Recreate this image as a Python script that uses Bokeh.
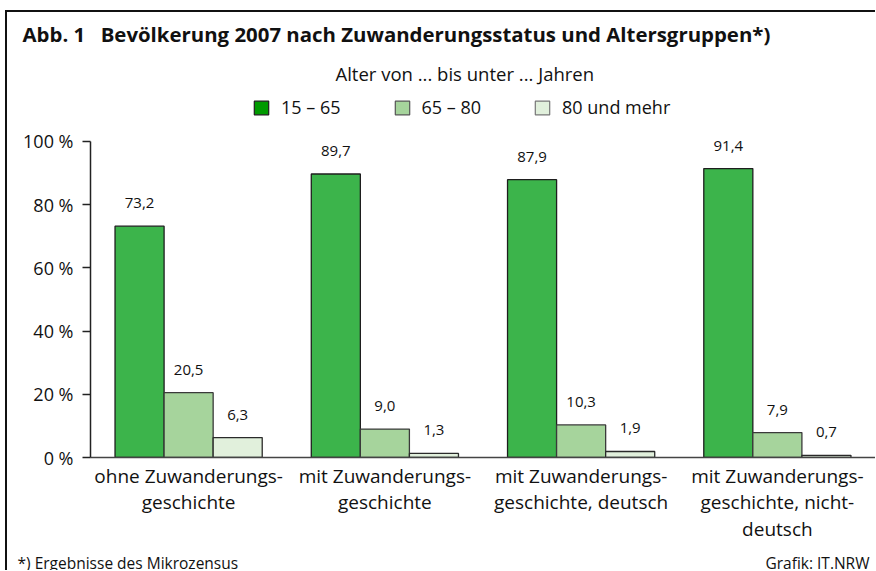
from bokeh.plotting import figure
from bokeh.layouts import column
from bokeh.models import (ColumnDataSource, FactorRange, Range1d, FixedTicker, Label,
                          LabelSet, Legend, LegendItem)
from bokeh.transform import dodge
from bokeh.core.properties import value
from bokeh.embed import file_html
from bokeh.resources import INLINE

# ---------------- data ----------------
categories = [
    "ohne Zuwanderungs-\ngeschichte",
    "mit Zuwanderungs-\ngeschichte",
    "mit Zuwanderungs-\ngeschichte, deutsch",
    "mit Zuwanderungs-\ngeschichte, nicht-\ndeutsch",
]
series_names = ["15 \u2013 65", "65 \u2013 80", "80 und mehr"]
age_15_65 = [73.2, 89.7, 87.9, 91.4]
age_65_80 = [20.5, 9.0, 10.3, 7.9]
age_80_plus = [6.3, 1.3, 1.9, 0.7]
y_ticks = [0, 20, 40, 60, 80, 100]
y_tick_labels = ["0 %", "20 %", "40 %", "60 %", "80 %", "100 %"]

title_text = "Abb. 1\u2002 Bev\u00f6lkerung 2007 nach Zuwanderungsstatus und Altersgruppen*)"
legend_title = "Alter von ... bis unter ... Jahren"
footnote_left = "*) Ergebnisse des Mikrozensus"
footnote_right = "Grafik: IT.NRW"

# ---------------- style ----------------
FONT = "Open Sans"
bar_fills = ["#3cb44b", "#a6d49c", "#e1f0dc"]
bar_lines = ["#1e1e1e", "#3a3a3a", "#2a2a2a"]
legend_fills = ["#009a00", "#a6d49c", "#e1f0dc"]
legend_lines = ["#1e1e1e", "#555555", "#777777"]
offsets = [-0.25, 0.0, 0.25]
BAR_W = 0.25

W = 868
H1, H2, H3 = 116, 416, 26


def no_align(f):
    try:
        f.frame_align = False
    except AttributeError:
        pass


def blank_fig(h):
    f = figure(width=W, height=h, x_range=Range1d(0, W), y_range=Range1d(0, h),
               x_axis_type=None, y_axis_type=None, output_backend="svg",
               toolbar_location=None, min_border=0, title=None)
    f.outline_line_color = None
    f.xgrid.visible = False
    f.ygrid.visible = False
    no_align(f)
    return f


# ---------- top: title + legend ----------
top = blank_fig(H1)
top.add_layout(Label(x=15, y=H1 - 21, text=title_text, text_font=FONT,
                     text_font_size="20.4px", text_font_style="bold",
                     text_baseline="middle", text_align="left", text_color="#111"))
top.add_layout(Label(x=328, y=H1 - 61, text=legend_title, text_font=FONT,
                     text_font_size="18.5px", text_baseline="middle",
                     text_align="left", text_color="#111"))
items = []
for name, fc, lc, vals in zip(series_names, legend_fills, legend_lines,
                              [age_15_65, age_65_80, age_80_plus]):
    src = ColumnDataSource(dict(x=[0], top=[vals[0]]))
    r = top.vbar(x="x", top="top", width=1, source=src, fill_color=fc,
                 line_color=lc, line_width=1.2)
    r.visible = False
    items.append(LegendItem(label=name, renderers=[r]))
legend = Legend(items=items, orientation="horizontal", location=(245, 9),
                padding=0, margin=0, spacing=52, label_standoff=11,
                glyph_width=18, glyph_height=17, border_line_color=None,
                background_fill_alpha=0, label_text_font=FONT,
                label_text_font_size="18px", label_text_color="#111",
                click_policy="none")
top.add_layout(legend, "center")

# ---------- main chart ----------
p = figure(width=W, height=H2, x_range=FactorRange(*categories, range_padding=0),
           y_range=Range1d(0, 104.09), output_backend="svg", toolbar_location=None,
           min_border_left=83, min_border_right=0, min_border_top=0,
           min_border_bottom=85, title=None)
p.outline_line_color = None
p.xgrid.visible = False
p.ygrid.visible = False
no_align(p)

series = [age_15_65, age_65_80, age_80_plus]
for vals, off, fc, lc in zip(series, offsets, bar_fills, bar_lines):
    src = ColumnDataSource(dict(cat=categories, v=vals,
                                lab=[f"{v:.1f}".replace(".", ",") for v in vals]))
    p.vbar(x=dodge("cat", off, range=p.x_range), top="v", width=BAR_W, source=src,
           fill_color=fc, line_color=lc, line_width=1.3)
    p.add_layout(LabelSet(x=dodge("cat", off, range=p.x_range), y="v", text="lab",
                          source=src, text_align="center", text_baseline="alphabetic",
                          y_offset=18, text_font=value(FONT), text_font_size="15px",
                          text_color="#111"))

ya = p.yaxis[0]
ya.ticker = FixedTicker(ticks=y_ticks)
ya.major_label_overrides = {t: l for t, l in zip(y_ticks, y_tick_labels)}
ya.bounds = (0, 100)
ya.major_tick_out = 8
ya.major_tick_in = 0
ya.minor_tick_out = 0
ya.minor_tick_in = 0
ya.major_label_standoff = 9
ya.axis_line_color = "#222"
ya.axis_line_width = 1.5
ya.major_tick_line_color = "#222"
ya.major_tick_line_width = 1.5
ya.major_label_text_font = FONT
ya.major_label_text_font_size = "18px"
ya.major_label_text_color = "#111"

xa = p.xaxis[0]
xa.major_tick_out = 0
xa.major_tick_in = 0
xa.minor_tick_out = 0
xa.axis_line_color = "#444"
xa.axis_line_width = 1.5
xa.major_label_standoff = 5
xa.major_label_text_font = FONT
xa.major_label_text_font_size = "19px"
xa.major_label_text_color = "#111"
xa.major_label_text_line_height = 1.02

# ---------- bottom: footnotes ----------
bot = blank_fig(H3)
bot.add_layout(Label(x=10, y=8, text=footnote_left, text_font=FONT,
                     text_font_size="15.5px", text_baseline="alphabetic",
                     text_align="left", text_color="#111"))
bot.add_layout(Label(x=862, y=8, text=footnote_right, text_font=FONT,
                     text_font_size="15.5px", text_baseline="alphabetic",
                     text_align="right", text_color="#111"))

layout = column(top, p, bot, spacing=0)
layout.styles = {"border-left": "2px solid #111", "border-top": "2px solid #111",
                 "margin-left": "5px", "margin-top": "10px"}

open("out.html", "w").write(file_html(layout, INLINE))
